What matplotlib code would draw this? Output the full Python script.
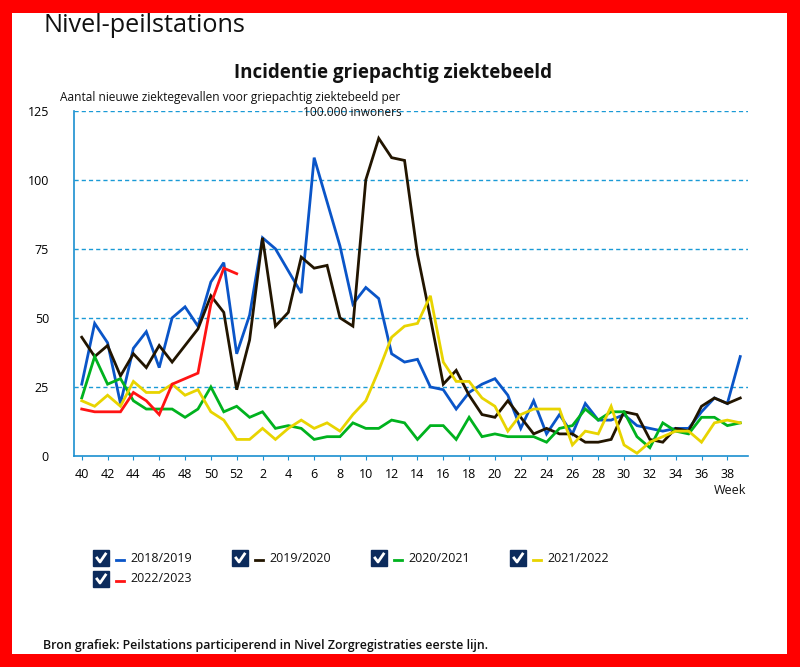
import matplotlib
matplotlib.use("Agg")
import matplotlib.pyplot as plt
from matplotlib.patches import Rectangle
from matplotlib.lines import Line2D

plt.rcParams['font.family'] = ['Open Sans', 'DejaVu Sans']

weeks = list(range(40, 53)) + list(range(1, 40))
tick_labels = [str(w) for w in weeks]

s2018 = [26, 48, 41, 19, 39, 45, 32, 50, 54, 47, 63, 70, 37, 51, 79, 75, 67, 59, 108, 92,
         76, 55, 61, 57, 37, 34, 35, 25, 24, 17, 23, 26, 28, 22, 10, 20, 8, 15, 8, 19,
         13, 13, 15, 11, 10, 9, 10, 10, 16, 21, 19, 36]
s2019 = [43, 36, 40, 29, 37, 32, 40, 34, 40, 46, 58, 52, 24, 42, 79, 47, 52, 72, 68, 69,
         50, 47, 100, 115, 108, 107, 73, 50, 26, 31, 22, 15, 14, 20, 14, 8, 10, 8, 8, 5,
         5, 6, 16, 15, 6, 5, 10, 9, 18, 21, 19, 21]
s2020 = [21, 36, 26, 28, 20, 17, 17, 17, 14, 17, 25, 16, 18, 14, 16, 10, 11, 10, 6, 7,
         7, 12, 10, 10, 13, 12, 6, 11, 11, 6, 14, 7, 8, 7, 7, 7, 5, 10, 11, 17,
         13, 16, 16, 7, 3, 12, 9, 8, 14, 14, 11, 12]
s2021 = [20, 18, 22, 18, 27, 23, 23, 26, 22, 24, 16, 13, 6, 6, 10, 6, 10, 13, 10, 12,
         9, 15, 20, 31, 43, 47, 48, 58, 34, 27, 27, 21, 18, 9, 15, 17, 17, 17, 4, 9,
         8, 18, 4, 1, 5, 7, 9, 9, 5, 12, 13, 12]
s2022 = [17, 16, 16, 16, 23, 20, 15, 26, 28, 30, 55, 68, 66]

series = [
    ("2018/2019", s2018, "#0a55c8"),
    ("2019/2020", s2019, "#221500"),
    ("2020/2021", s2020, "#00b21e"),
    ("2021/2022", s2021, "#e8d400"),
    ("2022/2023", s2022, "#ff1414"),
]

fig = plt.figure(figsize=(8, 6.67), dpi=100)
W, H = 800, 667

def fx(px):
    return px / W

def fy(py):
    return 1 - py / H

# red frame
fig.patches.append(Rectangle((0, 0), 1, 1, transform=fig.transFigure,
                             facecolor='#ff0000', edgecolor='none', zorder=-10))
fig.patches.append(Rectangle((fx(12), fy(654)), fx(787) - fx(12), fy(13) - fy(654),
                             transform=fig.transFigure, facecolor='white',
                             edgecolor='none', zorder=-9))

ax = fig.add_axes([fx(74), fy(456), fx(748) - fx(74), fy(110.7) - fy(456)])
ax.set_facecolor('none')

x = list(range(len(weeks)))
for name, vals, col in series:
    ax.plot(x[:len(vals)], vals, color=col, lw=2.0, solid_joinstyle='miter', zorder=3)

ax.set_ylim(0, 125)
ax.set_xlim(-0.6, 51.6)
ax.set_yticks([0, 25, 50, 75, 100, 125])
ax.set_yticklabels(['0', '25', '50', '75', '100', '125'], fontsize=9)
for yv in [25, 50, 75, 100, 125]:
    ax.axhline(yv, color='#1a9ad6', lw=1.0, ls=(0, (3, 2.2)), zorder=1)

ax.set_xticks(x[::2])
ax.set_xticklabels(tick_labels[::2], fontsize=9)
ax.tick_params(axis='x', length=3, color='#1a8fd0', pad=6)
ax.tick_params(axis='y', length=0, pad=18)

for sp in ['top', 'right']:
    ax.spines[sp].set_visible(False)
ax.spines['left'].set_color('#1a8fd0')
ax.spines['bottom'].set_color('#1a8fd0')
ax.spines['left'].set_linewidth(1.2)
ax.spines['bottom'].set_linewidth(1.2)

# texts
fig.text(fx(43), fy(25), "Nivel-peilstations", fontsize=18.2, va='center', ha='left', color='#111111')
fig.text(fx(393), fy(73), "Incidentie griepachtig ziektebeeld", fontsize=13.5,
         fontweight='bold', va='center', ha='center', color='#111111')
fig.text(fx(60), fy(97), "Aantal nieuwe ziektegevallen voor griepachtig ziektebeeld per",
         fontsize=8.6, va='center', ha='left', color='#111111')
fig.text(fx(352), fy(113), "100.000 inwoners", fontsize=8.6, va='center', ha='center', color='#111111')
fig.text(fx(746), fy(491), "Week", fontsize=9, va='center', ha='right', color='#111111')
fig.text(fx(43), fy(645), "Bron grafiek: Peilstations participerend in Nivel Zorgregistraties eerste lijn.",
         fontsize=8.95, va='center', ha='left', color='#111111', fontweight='semibold')

# legend with checkboxes
leg_pos = [(93, 558), (232, 558), (371, 558), (510, 558), (93, 579)]
for (name, vals, col), (lx, ly) in zip(series, leg_pos):
    bw, bh = 16, 16
    fig.patches.append(Rectangle((fx(lx), fy(ly + bh / 2)), bw / W, bh / H,
                                 transform=fig.transFigure, facecolor='#0c2b5c',
                                 edgecolor='#0c2b5c', zorder=5))
    fig.lines.append(Line2D([fx(lx + 4), fx(lx + 7), fx(lx + 12.5)],
                            [fy(ly), fy(ly + 4), fy(ly - 4)],
                            transform=fig.transFigure, color='white', lw=2.0, zorder=6))
    fig.lines.append(Line2D([fx(lx + 23), fx(lx + 31)], [fy(ly + 1.5), fy(ly + 1.5)],
                            transform=fig.transFigure, color=col, lw=2.0, zorder=6))
    fig.text(fx(lx + 37), fy(ly), name, fontsize=9, va='center', ha='left', color='#111111')

fig.savefig("out.png", dpi=100)
